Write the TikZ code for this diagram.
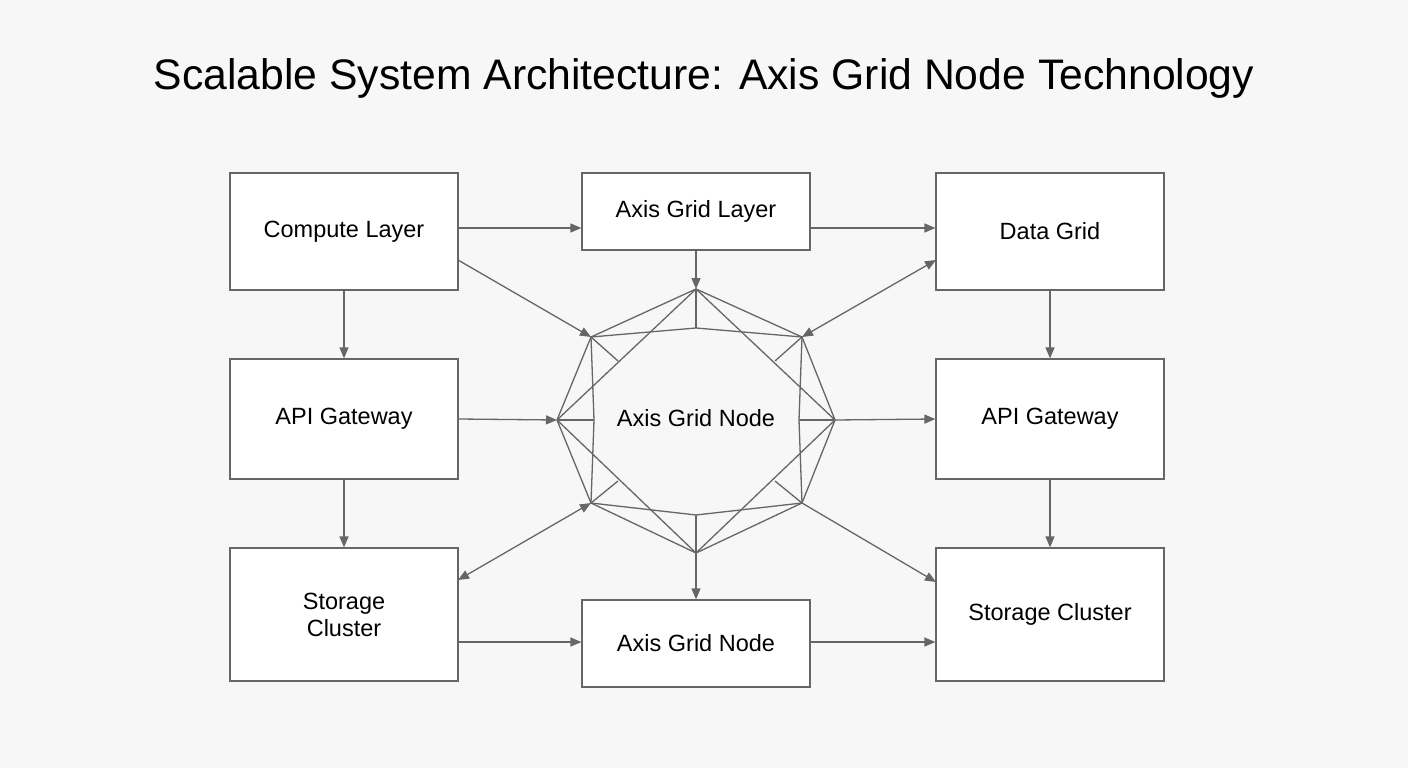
\documentclass[tikz,border=0pt]{standalone}
\usepackage{fontspec}
\setmainfont{Liberation Sans}
\usetikzlibrary{arrows.meta}
\definecolor{ln}{HTML}{666666}
\begin{document}
\begin{tikzpicture}[x=1pt,y=-1pt,
  box/.style={draw=ln,line width=1.2pt,fill=white,inner sep=0pt,align=center,font=\fontsize{23.5}{27}\selectfont},
  arr/.style={draw=ln,line width=1.3pt,-{Triangle[length=11pt,width=9pt]}},
  darr/.style={draw=ln,line width=1.3pt,{Triangle[length=11pt,width=9pt]}-{Triangle[length=11pt,width=9pt]}},
  oct/.style={draw=ln,line width=1.3pt}]
\fill[white!97!black] (0,0) rectangle (1408,768);
\useasboundingbox (0,0) rectangle (1408,768);
\node[font=\fontsize{42.7}{48}\selectfont] (title) at (704,78) {Scalable System Architecture: Axis Grid Node Technology};
% boxes
\node[box,minimum width=228pt,minimum height=117pt] (cl) at (344,231.5) {Compute Layer};
\node[box,minimum width=228pt,minimum height=77pt] (agl) at (696,211.5) {Axis Grid Layer};
\node[box,minimum width=228pt,minimum height=117pt] (dg) at (1050,231.5) {Data Grid};
\node[box,minimum width=228pt,minimum height=120pt] (apl) at (344,419) {API Gateway};
\node[box,minimum width=228pt,minimum height=120pt] (apr) at (1050,419) {API Gateway};
\node[box,minimum width=228pt,minimum height=133pt] (scl) at (344,614.5) {Storage\\Cluster};
\node[box,minimum width=228pt,minimum height=87pt] (agn) at (696,643.5) {Axis Grid Node};
\node[box,minimum width=228pt,minimum height=133pt] (scr) at (1050,614.5) {Storage Cluster};
% central node geometry
\coordinate (T) at (696,289);
\coordinate (UR) at (802,337);
\coordinate (R) at (835,420);
\coordinate (LR) at (802,503);
\coordinate (B) at (696,553);
\coordinate (LL) at (591,503);
\coordinate (L) at (557,420);
\coordinate (UL) at (591,337);
\coordinate (Ti) at (696,328);
\coordinate (Ri) at (799,420);
\coordinate (Bi) at (696,515);
\coordinate (Li) at (594,420);
\coordinate (s1) at (618,361);
\coordinate (s2) at (775,361);
\coordinate (s3) at (618,481);
\coordinate (s4) at (775,481);
\draw[oct] (T)--(UR)--(R)--(LR)--(B)--(LL)--(L)--(UL)--cycle;
\draw[oct] (UL)--(Ti)--(UR)--(Ri)--(LR)--(Bi)--(LL)--(Li)--cycle;
\draw[oct] (T)--(Ti) (R)--(Ri) (B)--(Bi) (L)--(Li);
\draw[oct] (T)--(L) (T)--(R) (B)--(L) (B)--(R);
\draw[oct] (UL)--(s1) (UR)--(s2) (LL)--(s3) (LR)--(s4);
\node[font=\fontsize{23.5}{27}\selectfont] (agc) at (696,418) {Axis Grid Node};
% connectors
\draw[arr] (cl.east|-0,228) -- (agl.west|-0,228);
\draw[arr] (agl.east|-0,228) -- (dg.west|-0,228);
\draw[arr] (agl.south) -- (T);
\draw[arr] (458,260) -- (UL);
\draw[darr] (UR) -- (936,260);
\draw[arr] (cl.south) -- (apl.north);
\draw[arr] (apl.east) -- (L);
\draw[arr] (R) -- (apr.west);
\draw[arr] (dg.south) -- (apr.north);
\draw[arr] (apr.south) -- (scr.north);
\draw[arr] (apl.south) -- (scl.north);
\draw[darr] (LL) -- (458,580);
\draw[arr] (B) -- (agn.north);
\draw[arr] (LR) -- (936,582);
\draw[arr] (scl.east|-0,642) -- (agn.west|-0,642);
\draw[arr] (agn.east|-0,642) -- (scr.west|-0,642);
\end{tikzpicture}
\end{document}
